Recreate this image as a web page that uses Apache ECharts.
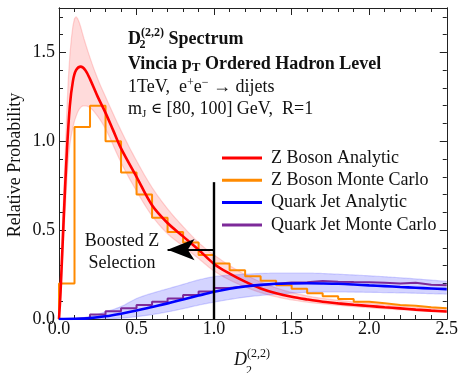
<!DOCTYPE html>
<html><head><meta charset="utf-8">
<script src="https://cdn.jsdelivr.net/npm/echarts@6/dist/echarts.min.js"></script>
<style>html,body{margin:0;padding:0;background:#fff}#c{width:461px;height:373px}</style>
</head><body><div id="c"></div>
<script>
// ---- data ----
const binEdges = [0,0.1,0.2,0.3,0.4,0.5,0.6,0.7,0.8,0.9,1.0,1.1,1.2,1.3,1.4,1.5,1.6,1.7,1.8,1.9,2.0,2.1,2.2,2.3,2.4,2.5];
const zBosonMC = [0.20,1.08,1.20,1.00,0.825,0.70,0.57,0.49,0.43,0.36,0.313,0.275,0.24,0.215,0.19,0.17,0.145,0.128,0.112,0.097,0.088,0.079,0.074,0.066,0.06];
const quarkMC  = [0.0,0.005,0.026,0.043,0.06,0.079,0.097,0.116,0.135,0.155,0.175,0.185,0.19,0.198,0.205,0.207,0.214,0.21,0.208,0.207,0.204,0.2,0.204,0.193,0.19];

const zAnaX = [0,0.01,0.03,0.05,0.07,0.09,0.11,0.14,0.17,0.2,0.25,0.3,0.35,0.4,0.5,0.6,0.7,0.8,0.9,1.0,1.1,1.2,1.3,1.4,1.5,1.6,1.7,1.8,1.9,2.0,2.1,2.2,2.3,2.4,2.5];
const zAnaY = [0,0.15,0.56,0.93,1.2,1.34,1.40,1.42,1.40,1.35,1.25,1.16,1.06,0.96,0.80,0.64,0.54,0.465,0.39,0.31,0.255,0.21,0.172,0.145,0.125,0.11,0.097,0.088,0.08,0.073,0.066,0.06,0.053,0.047,0.042];

const zBandX = [0,0.03,0.06,0.09,0.11,0.13,0.16,0.2,0.25,0.3,0.4,0.5,0.6,0.7,0.8,0.9,1.0,1.2,1.4,1.6,1.8,2.0,2.2,2.5];
const zBandUp = [0,0.7,1.35,1.65,1.70,1.67,1.58,1.47,1.35,1.25,1.06,0.89,0.74,0.62,0.52,0.43,0.36,0.25,0.175,0.13,0.105,0.088,0.073,0.055];
const zBandLo = [0,0.45,0.9,1.08,1.14,1.18,1.2,1.19,1.14,1.07,0.88,0.72,0.58,0.48,0.41,0.34,0.27,0.18,0.125,0.095,0.077,0.063,0.052,0.037];

const qAnaX = [0,0.1,0.2,0.3,0.4,0.5,0.6,0.7,0.8,0.9,1.0,1.1,1.2,1.3,1.4,1.5,1.6,1.7,1.8,1.9,2.0,2.1,2.2,2.3,2.4,2.5];
const qAnaY = [0,0.001,0.005,0.015,0.03,0.048,0.068,0.088,0.11,0.132,0.153,0.17,0.183,0.192,0.198,0.2,0.201,0.2,0.198,0.194,0.189,0.185,0.18,0.176,0.172,0.168];

const qBandX = [0,0.1,0.2,0.3,0.4,0.5,0.6,0.7,0.8,0.9,1.0,1.2,1.4,1.6,1.8,2.0,2.2,2.5];
const qBandUp = [0,0.002,0.015,0.04,0.07,0.115,0.145,0.17,0.195,0.22,0.238,0.252,0.258,0.258,0.252,0.243,0.232,0.212];
const qBandLo = [0,0,0,0.002,0.005,0.013,0.025,0.04,0.058,0.078,0.095,0.123,0.14,0.15,0.152,0.15,0.147,0.14];

const selectionCut = 1.0;      // vertical line position
const selectionLineTop = 0.77; // top of vertical line
const arrowY = 0.39;
const arrowTipX = 0.70;

const legendNames = ['Z Boson Analytic','Z Boson Monte Carlo','Quark Jet Analytic','Quark Jet Monte Carlo'];

// ---- build ----
const pairs = (xs, ys) => xs.map((x,i)=>[x, ys[i]]);
const stepData = vals => { const d=[[binEdges[0],0]]; vals.forEach((v,i)=>d.push([binEdges[i],v])); d.push([binEdges[binEdges.length-1], vals[vals.length-1]]); return d; };

// monotone cubic smoothing of pixel points (rendering only)
function smoothPts(p){
  const n=p.length; if(n<3) return p;
  const d=[], m=new Array(n);
  for(let i=0;i<n-1;i++){ const dx=p[i+1][0]-p[i][0]; d.push(dx===0?0:(p[i+1][1]-p[i][1])/dx); }
  m[0]=d[0]; m[n-1]=d[n-2];
  for(let i=1;i<n-1;i++){ m[i]=(d[i-1]*d[i]<=0)?0:(d[i-1]+d[i])/2; }
  for(let i=0;i<n-1;i++){ if(d[i]===0){m[i]=0;m[i+1]=0;continue;} const a=m[i]/d[i], b=m[i+1]/d[i], s=a*a+b*b; if(s>9){const t=3/Math.sqrt(s); m[i]=t*a*d[i]; m[i+1]=t*b*d[i];} }
  const out=[];
  for(let i=0;i<n-1;i++){
    const x0=p[i][0], x1=p[i+1][0], y0=p[i][1], y1=p[i+1][1], h=x1-x0;
    const steps=Math.max(2, Math.ceil(h/2));
    for(let k=0;k<steps;k++){ const t=k/steps, t2=t*t, t3=t2*t;
      out.push([x0+h*t, (2*t3-3*t2+1)*y0+(t3-2*t2+t)*h*m[i]+(-2*t3+3*t2)*y1+(t3-t2)*h*m[i+1]]); }
  }
  out.push(p[n-1]);
  return out;
}
function bandSeries(xs, up, lo, fill, stroke){
  return {type:'custom', silent:true, clip:true, z:1, data:[0],
    renderItem:(params, api)=>{
      const U = smoothPts(xs.map((x,i)=>api.coord([x, up[i]])));
      const L = smoothPts(xs.map((x,i)=>api.coord([x, lo[i]])));
      const poly = U.concat(L.slice().reverse());
      return {type:'group', children:[
        {type:'polygon', shape:{points:poly}, style:{fill:fill, stroke:null}},
        {type:'polyline', shape:{points:U}, style:{stroke:stroke, fill:null, lineWidth:1.2}},
        {type:'polyline', shape:{points:L}, style:{stroke:stroke, fill:null, lineWidth:1.2}}
      ]};
    }};
}

const SERIF = 'Liberation Serif';
const AX = '#222';

function xAx(pos, showLabel){
  return {type:'value', min:0, max:2.5, interval:0.5, position:pos,
    axisLine:{show:true, onZero:false, lineStyle:{color:AX, width:1}},
    axisTick:{show:true, inside:true, length:7, lineStyle:{color:AX, width:1}},
    minorTick:{show:true, splitNumber:5, length:4, lineStyle:{color:AX, width:1}},
    axisLabel:{show:showLabel, formatter:v=>v.toFixed(1), fontFamily:SERIF, fontSize:18, color:'#111', margin:1},
    splitLine:{show:false}, minorSplitLine:{show:false}};
}
function yAx(pos, interval, len, showLabel){
  return {type:'value', min:0, max:1.75, interval:interval, position:pos,
    axisLine:{show:true, onZero:false, lineStyle:{color:AX, width:1}},
    axisTick:{show:true, inside:true, length:len, lineStyle:{color:AX, width:1}},
    axisLabel:{show:showLabel, formatter:v=> (Math.abs(v/0.5-Math.round(v/0.5))<1e-6 ? v.toFixed(1) : ''), fontFamily:SERIF, fontSize:18, color:'#111', margin:4, showMaxLabel:false},
    splitLine:{show:false}};
}

const chart = echarts.init(document.getElementById('c'), null, {renderer:'canvas'});
chart.setOption({
  animation:false,
  backgroundColor:'#fff',
  textStyle:{fontFamily:SERIF},
  grid:{left:59, right:13, top:8, bottom:54, containLabel:false},
  xAxis:[xAx('bottom', true), xAx('top', false)],
  yAxis:[yAx('left',0.5,7,true), yAx('left',0.1,4,false), yAx('right',0.5,7,false), yAx('right',0.1,4,false)],
  legend:{show:true, data:legendNames, orient:'vertical', left:222, top:147, padding:0, icon:'rect', itemWidth:40, itemHeight:3, itemGap:0.3,
    textStyle:{fontFamily:SERIF, fontSize:18, color:'#111', lineHeight:22, padding:[0,0,0,4]}, selectedMode:false},
  series:[
    bandSeries(zBandX, zBandUp, zBandLo, 'rgba(255,40,40,0.17)', 'rgba(255,90,90,0.25)'),
    bandSeries(qBandX, qBandUp, qBandLo, 'rgba(40,40,255,0.2)', 'rgba(90,90,255,0.25)'),
    {type:'line', name:legendNames[1], data:stepData(zBosonMC), step:'end', symbol:'none', color:'#ff8a00', lineStyle:{color:'#ff8a00', width:2}, z:3},
    {type:'line', name:legendNames[3], data:stepData(quarkMC), step:'end', symbol:'none', color:'#7d2a99', lineStyle:{color:'#7d2a99', width:2}, z:3},
    {type:'line', name:legendNames[0], data:pairs(zAnaX,zAnaY), smooth:0.35, symbol:'none', color:'#ff0000', lineStyle:{color:'#ff0000', width:2.6}, z:4,
      markLine:{silent:true, symbol:['none','none'], label:{show:false}, animation:false,
        data:[
          [{coord:[selectionCut,0], lineStyle:{color:'#000', width:2.4, type:'solid'}},{coord:[selectionCut,selectionLineTop]}],
          [{coord:[selectionCut,arrowY], symbol:'none', lineStyle:{color:'#000', width:2, type:'solid'}},{coord:[arrowTipX,arrowY], symbol:'arrow', symbolSize:[16,27]}]
        ]}},
    {type:'line', name:legendNames[2], data:pairs(qAnaX,qAnaY), smooth:0.35, symbol:'none', color:'#0000ff', lineStyle:{color:'#0000ff', width:2.6}, z:4}
  ],
  graphic:[
    {type:'text', x:128, y:39, z:100, style:{text:'{b|D}{sup|(2,2)}{b| Spectrum}', textVerticalAlign:'middle', fill:'#111',
      rich:{b:{font:'bold 18px '+SERIF, fill:'#111'}, sup:{font:'bold 12px '+SERIF, fill:'#111', verticalAlign:'top'}}, lineHeight:24}},
    {type:'text', x:139.5, y:44.5, z:100, style:{text:'2', font:'bold 12px '+SERIF, fill:'#111', textVerticalAlign:'middle'}},
    {type:'text', x:128, y:64.5, z:100, style:{text:'{b|Vincia p}{s|T}{b| Ordered Hadron Level}', textVerticalAlign:'middle', fill:'#111',
      rich:{b:{font:'bold 18px '+SERIF, fill:'#111', lineHeight:20}, s:{font:'bold 13px '+SERIF, fill:'#111', verticalAlign:'bottom'}}}},
    {type:'text', x:128, y:87.5, z:100, style:{text:'{r|1TeV,  e}{sup|+}{r|e}{sup|−}{r| → dijets}', textVerticalAlign:'middle', fill:'#111',
      rich:{r:{font:'18px '+SERIF, fill:'#111', lineHeight:22}, sup:{font:'12px '+SERIF, fill:'#111', verticalAlign:'top'}}}},
    {type:'text', x:128, y:109.5, z:100, style:{text:'{r|m}{s|J}{r| }{e|∈}{r| [80, 100] GeV,  R=1}', textVerticalAlign:'middle', fill:'#111',
      rich:{r:{font:'18px '+SERIF, fill:'#111', lineHeight:20}, e:{font:'15px "DejaVu Serif"', fill:'#111'}, s:{font:'11px '+SERIF, fill:'#111', verticalAlign:'bottom'}}}},
    {type:'text', x:122, y:241, z:100, style:{text:'Boosted Z', font:'18px '+SERIF, fill:'#111', textAlign:'center', textVerticalAlign:'middle'}},
    {type:'text', x:122, y:263.5, z:100, style:{text:'Selection', font:'18px '+SERIF, fill:'#111', textAlign:'center', textVerticalAlign:'middle'}},
    {type:'text', x:15, y:165, rotation:Math.PI/2, z:100, style:{text:'Relative Probability', font:'18px '+SERIF, fill:'#111', textAlign:'center', textVerticalAlign:'middle'}},
    {type:'text', x:234, y:360, z:100, style:{text:'{i|D}{sup|(2,2)}', textVerticalAlign:'middle', fill:'#111',
      rich:{i:{font:'italic 18px '+SERIF, fill:'#111', lineHeight:24}, sup:{font:'12px '+SERIF, fill:'#111', verticalAlign:'top'}}}},
    {type:'text', x:246, y:371, z:100, style:{text:'2', font:'12px '+SERIF, fill:'#111', textVerticalAlign:'middle'}}
  ]
});
</script></body></html>
